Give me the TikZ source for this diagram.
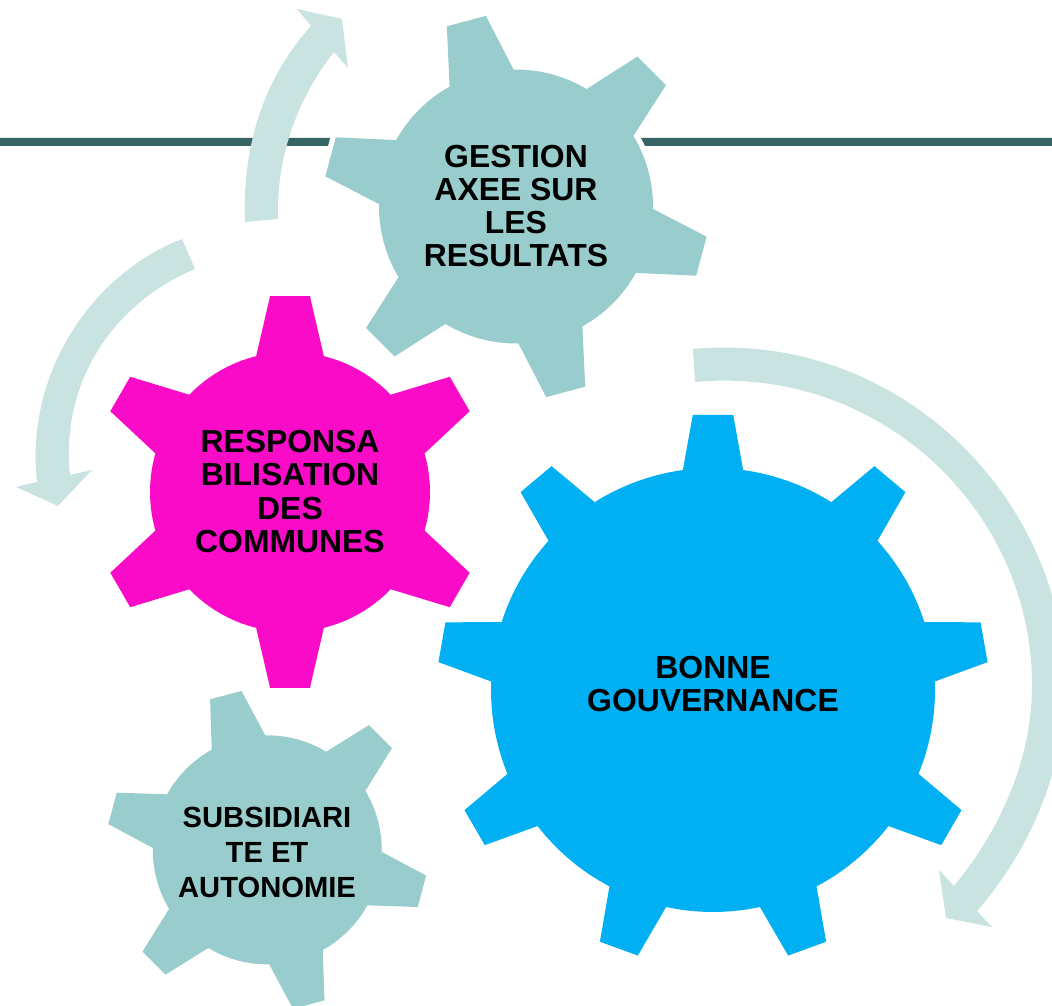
\documentclass[tikz,border=0pt]{standalone}
\usepackage{fontspec}
\setmainfont{Liberation Sans}
\definecolor{myteal}{RGB}{153, 205, 205}
\definecolor{mypink}{RGB}{249, 11, 200}
\definecolor{myblue}{RGB}{0, 176, 242}
\definecolor{myarrow}{RGB}{201, 227, 225}
\definecolor{myline}{RGB}{53, 101, 101}

% colour, centre x, centre y, r, R, last tooth, first tooth, second tooth, base half
\newcommand{\gear}[9]{%
\fill[#1] (#2,#3) ++(#7+#9:#4)
\foreach \a in {#7,#8,...,#6} {
 -- ($(#2,#3)+(\a+\tipa:#5)$) -- ($(#2,#3)+(\a-\tipa:#5)$) -- ($(#2,#3)+(\a-#9:#4)$)
 arc[start angle=\a-#9, end angle=\a-\stepa+#9, radius=#4]
} -- cycle;}
\usetikzlibrary{calc}

\begin{document}
\begin{tikzpicture}[x=0.02cm,y=0.02cm]

\tikzstyle{big_label} = [font=\bfseries\fontsize{18.15}{18.9}\selectfont, text=black, align=center, inner sep=0]
\tikzstyle{small_label} = [font=\bfseries\fontsize{16.6}{19.9}\selectfont, text=black, align=center, inner sep=0]
\tikzstyle{curved_arrow} = [fill=myarrow]

\useasboundingbox (0,0) rectangle (1052,1005);

% horizontal rule
\fill[myline] (0,867) -- (330,867) -- (328,859) -- (0,859) -- cycle;
\fill[myline] (641,867) -- (1052,867) -- (1052,859) -- (645,859) -- cycle;

% arrows
\fill[curved_arrow] (245,783) .. controls (242,855) and (262,925) .. (311,979)
 -- (297,996) -- (342,986) -- (348,937) -- (334,953)
 .. controls (296,905) and (276,845) .. (278,786) -- cycle;
\fill[curved_arrow] (182,766) .. controls (90,730) and (25,630) .. (37,523)
 -- (16,518) -- (58,499) -- (92,535) -- (70,530)
 .. controls (60,630) and (120,705) .. (195,736) -- cycle;
\begin{scope}
\clip (0,0) rectangle (1052,1005);
\fill[curved_arrow] (693,656) .. controls (900,675) and (1065,505) .. (1065,320)
 .. controls (1065,235) and (1030,155) .. (977,94)
 -- (992,78) -- (946,87) -- (939,135) -- (954,119)
 .. controls (1000,175) and (1032,245) .. (1032,320)
 .. controls (1032,495) and (880,640) .. (695,623) -- cycle;
\end{scope}

% gears
\begin{scope}
\clip (0,0) rectangle (1052,1005);
\def\stepa{60}\def\tipa{6}
\gear{myteal}{516}{798.5}{137}{193}{-195}{105}{45}{14}
\def\tipa{5.8}
\gear{mypink}{290}{513}{140}{197}{-210}{90}{30}{14}
\def\stepa{40}\def\tipa{4.2}
\gear{myblue}{713}{315}{222}{276}{-230}{90}{50}{7.8}
\def\stepa{60}\def\tipa{5.8}
\gear{myteal}{267.25}{155.15}{114.5}{161}{-195}{105}{45}{14}
\end{scope}

% labels
\node[big_label] (gestion) at (516,799) {GESTION\\AXEE SUR\\LES\\RESULTATS};
\node[big_label] (responsa) at (290,513.5) {RESPONSA\\BILISATION\\DES\\COMMUNES};
\node[big_label] (bonne) at (713,321) {BONNE\\GOUVERNANCE};
\node[small_label] (subsidiarite) at (267,153) {SUBSIDIARI\\TE ET\\AUTONOMIE};

\end{tikzpicture}
\end{document}
